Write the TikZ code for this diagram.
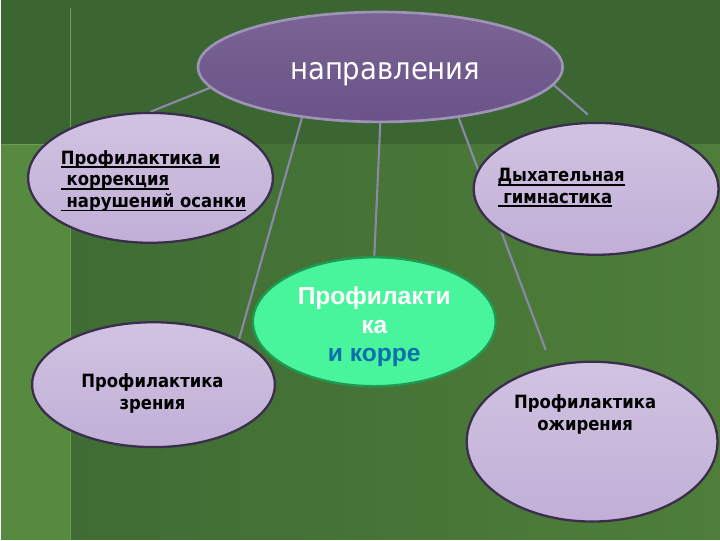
\documentclass[tikz,border=0pt]{standalone}
\usepackage{fontspec}
\setmainfont{DejaVu Sans Condensed}
\newfontfamily\arialfont{Liberation Sans}
\usetikzlibrary{shapes.geometric}
\pgfdeclarelayer{bg}
\pgfdeclarelayer{links}
\pgfsetlayers{bg,links,main}
\definecolor{bgdark}{HTML}{3B6632}
\definecolor{bgmid}{HTML}{3F6C34}
\definecolor{bglight}{HTML}{4E7E3A}
\definecolor{bgstrip}{HTML}{568A3F}
\definecolor{bgline}{HTML}{6E9E55}
\definecolor{lav}{HTML}{C1AFD7}
\definecolor{lavborder}{HTML}{3A2E4C}
\definecolor{topfill}{HTML}{6A5388}
\definecolor{topborder}{HTML}{A093B8}
\definecolor{mint}{HTML}{48F49C}
\definecolor{mintborder}{HTML}{1F9A52}
\definecolor{linkgray}{HTML}{8C88AA}
\definecolor{corre}{HTML}{0B6FAE}
\newcommand\uln[1]{\setbox0\hbox{#1}\rlap{\rule[-2.4pt]{\wd0}{1.1pt}}\box0}

\begin{document}
\begin{tikzpicture}[x=0.02cm,y=-0.02cm,
  oval/.style={ellipse,draw=lavborder,line width=1.3pt,top color=lav!75!white,bottom color=lav,inner sep=0pt},
  link/.style={draw=linkgray,line width=1.2pt},
  lbl/.style={font=\fontsize{10.4}{12.3}\selectfont\bfseries,inner sep=0pt}]
  % background
  \begin{pgfonlayer}{bg}
  \fill[bgdark] (0,0) rectangle (720,540);
  \shade[left color=bgmid,right color=bglight] (70,145) rectangle (720,540);
  \fill[bgstrip] (0,145) rectangle (70,540);
  \draw[bgline,line width=0.7pt] (70,8) -- (70,540);
  \draw[bgline,line width=0.7pt] (0,145) -- (70,145);
  \end{pgfonlayer}
  \useasboundingbox (0,0) rectangle (720,540);

  % ovals
  \node[ellipse,draw=topborder,line width=1.5pt,top color=topfill!90!white,bottom color=topfill,
        minimum width=7.3cm,minimum height=2.2cm,inner sep=0pt] (dir) at (380,67) {};
  \node[oval,minimum width=4.9cm,minimum height=2.6cm] (posture) at (150,178) {};
  \node[oval,minimum width=4.9cm,minimum height=2.64cm] (breath) at (596,189) {};
  \node[ellipse,draw=mintborder,line width=1.3pt,fill=mint,minimum width=4.86cm,minimum height=2.58cm,
        inner sep=0pt] (core) at (374,322) {};
  \node[oval,minimum width=4.86cm,minimum height=2.5cm] (vision) at (153,385) {};
  \node[oval,minimum width=5.02cm,minimum height=3.2cm] (obesity) at (592,442) {};

  % texts
  \node[inner sep=0pt,text=white,font=\fontsize{17.4}{20}\selectfont] (t-dir) at (385,74) {направления};
  \node[inner sep=0pt,align=center,text=white,font=\arialfont\fontsize{14}{16}\selectfont\bfseries]
        (t-core) at (374,327) {Профилакти\\ка\\\textcolor{corre}{и корре}};
  \node[lbl,align=left,anchor=west] (t-posture) at (60,181)
        {\uln{Профилактика и}\\\uln{\ коррекция}\\\uln{\ нарушений осанки}};
  \node[lbl,align=left,anchor=west] (t-breath) at (497,188)
        {\uln{Дыхательная}\\\uln{\ гимнастика}};
  \node[lbl,align=center] (t-vision) at (152,394) {Профилактика\\зрения};
  \node[lbl,align=center] (t-obesity) at (585,415) {Профилактика\\ожирения};

  % links
  \begin{pgfonlayer}{links}
  \draw[link] (dir.187) -- (posture.north);
  \draw[link] (dir.213) -- (vision.28);
  \draw[link] (dir.south) -- (core.north);
  \draw[link,shorten >=0.32cm] (dir.-33) -- (obesity.118);
  \draw[link,shorten >=0.22cm] (dir.-6) -- (breath.north);
  \end{pgfonlayer}
\end{tikzpicture}
\end{document}
